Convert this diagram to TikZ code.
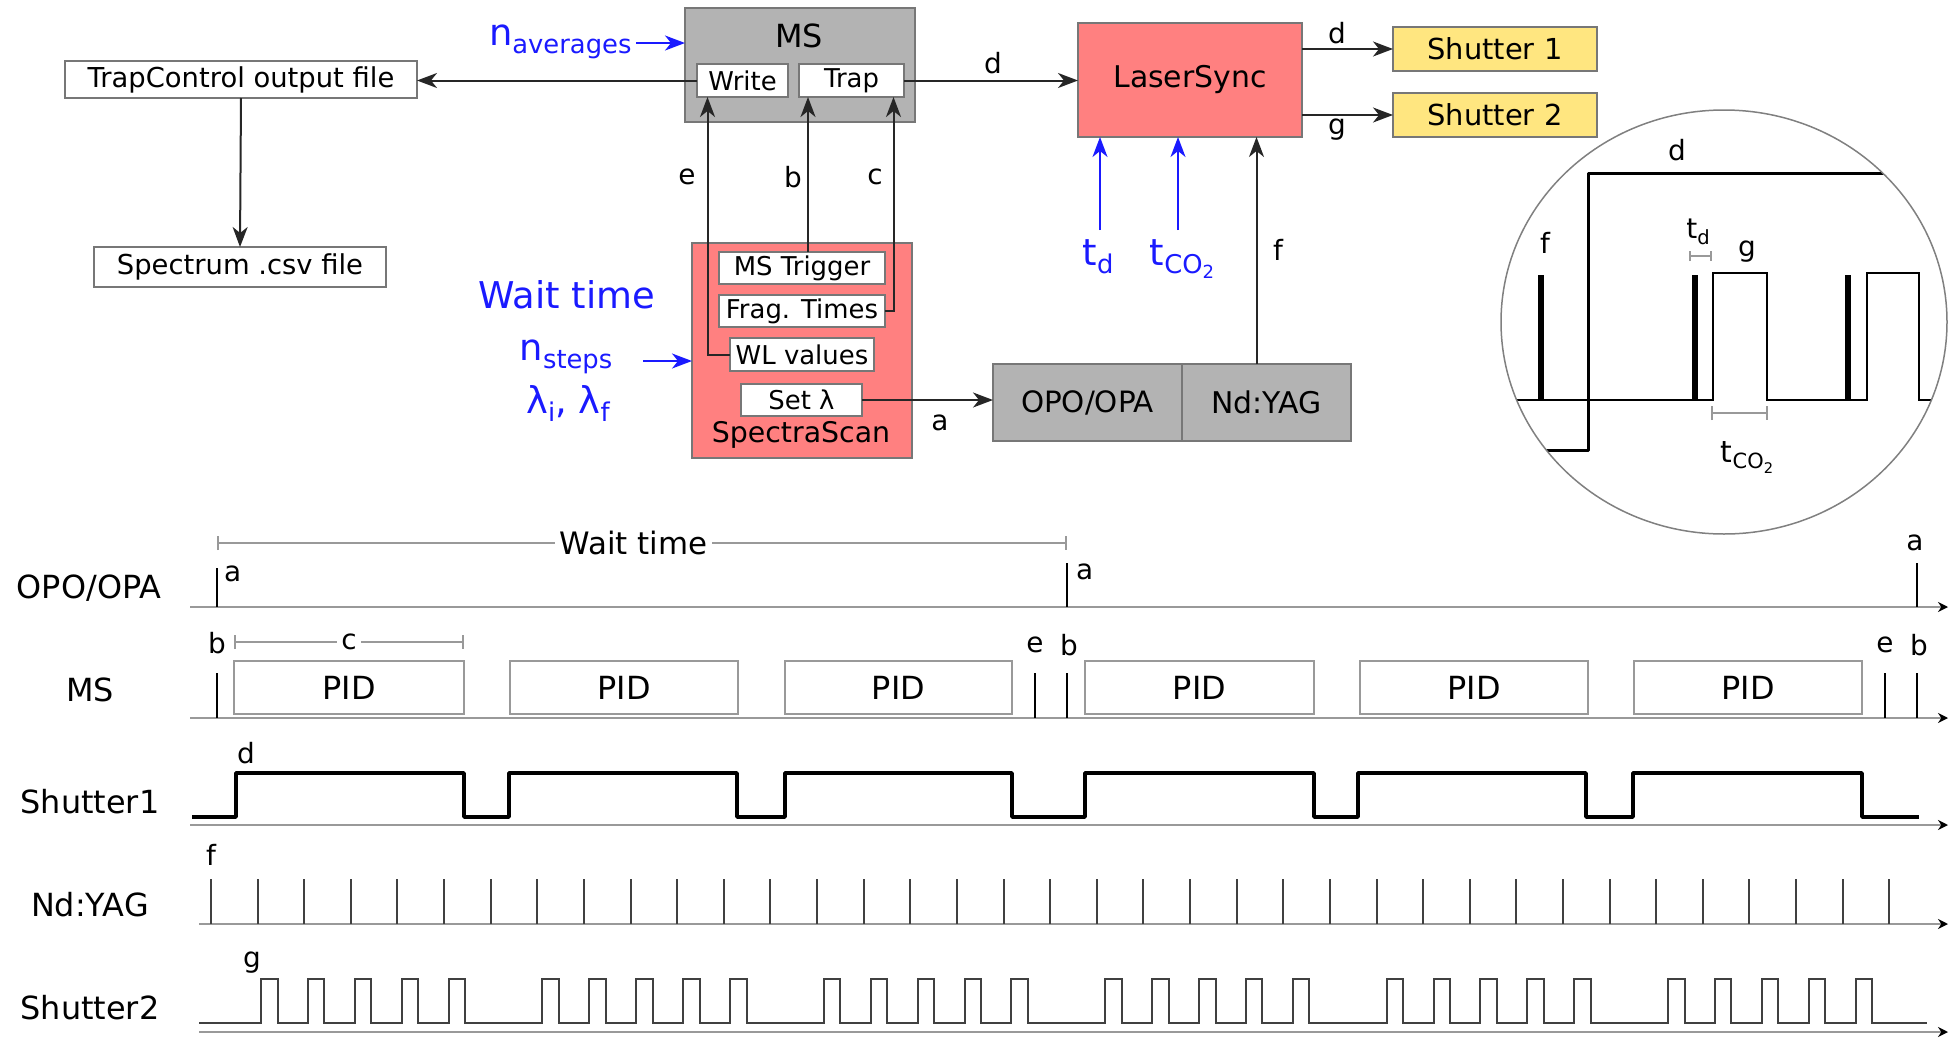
\documentclass[tikz,border=0pt]{standalone}
\usepackage{fontspec}
\setmainfont{DejaVu Sans}
\usetikzlibrary{arrows.meta,calc}
\definecolor{msgray}{HTML}{B3B3B3}
\definecolor{salmonbox}{HTML}{FF8080}
\definecolor{shyellow}{HTML}{FFE680}
\definecolor{bordergray}{HTML}{777777}
\definecolor{inblue}{HTML}{1A1AFF}
\definecolor{bargray}{HTML}{999999}
\newcommand{\lsub}[1]{\raisebox{-0.22em}{\scalebox{0.7}{#1}}}
\newcommand{\fs}[1]{\fontsize{#1}{#1}\selectfont}
\tikzset{
  every node/.style={inner sep=0pt, outer sep=0pt},
  wbox/.style={draw=bordergray, fill=white, line width=1.3bp, font=\fs{26}},
  gbox/.style={draw=bordergray, fill=msgray, line width=1.3bp},
  rbox/.style={draw=bordergray, fill=salmonbox, line width=1.3bp},
  ybox/.style={draw=bordergray, fill=shyellow, line width=1.3bp, font=\fs{29}},
  conn/.style={draw=black!85, line width=2bp, -{Stealth[length=20bp,width=15bp,inset=6bp]}},
  bconn/.style={draw=inblue, line width=2bp, -{Stealth[length=20bp,width=15bp,inset=6bp]}},
  lbl/.style={font=\fs{28}},
  blbl/.style={font=\fs{37}, text=inblue},
  tlbl/.style={font=\fs{32}},
  axisline/.style={draw=gray!80, line width=2.5bp, -{Stealth[length=10bp,width=10bp,color=black]}},
  sig/.style={draw=black, line width=2.5bp},
  thicksig/.style={draw=black, line width=3.5bp, line join=round},
  thinsig/.style={draw=black!75, line width=2bp},
  gbar/.style={draw=bargray, line width=2bp, {Bar[width=14bp]}-{Bar[width=14bp]}},
  pidbox/.style={draw=bargray, line width=1.5bp},
}
\begin{document}
\begin{tikzpicture}[x=1bp,y=-1bp]
\useasboundingbox (0,0) rectangle (1949,1037);

% ---------------- top block diagram ----------------
\node[draw=bordergray, fill=white, line width=1.3bp, minimum width=352bp, minimum height=37bp, font=\fs{27.5}] (trapout) at (241,79.5) {TrapControl output file};
\node[draw=bordergray, fill=white, line width=1.3bp, minimum width=292bp, minimum height=40bp, font=\fs{27.5}] (spectrum) at (240,267) {Spectrum .csv file};

\node[gbox, minimum width=230bp, minimum height=114bp] (ms) at (800,65) {};
\node[font=\fs{32}] (mslabel) at (799,36) {MS};
\node[wbox, minimum width=91bp, minimum height=33bp] (write) at (742.5,80.5) {Write};
\node[wbox, minimum width=105bp, minimum height=33bp] (trap) at (851.5,80.5) {Trap};

\node[rbox, minimum width=224bp, minimum height=114bp, font=\fs{30}] (laser) at (1190,80) {LaserSync};
\node[ybox, minimum width=204bp, minimum height=44bp] (sh1) at (1495,49) {Shutter 1};
\node[ybox, minimum width=204bp, minimum height=44bp] (sh2) at (1495,115) {Shutter 2};

\node[rbox, minimum width=220bp, minimum height=215bp] (scan) at (802,350.5) {};
\node[font=\fs{28.5}] (scanlabel) at (801,435) {SpectraScan};
\node[wbox, minimum width=166bp, minimum height=32bp] (mstrig) at (802,268) {MS Trigger};
\node[wbox, minimum width=166bp, minimum height=32bp] (frag) at (802,311) {Frag. Times};
\node[wbox, minimum width=144bp, minimum height=33bp] (wl) at (802,354.5) {WL values};
\node[wbox, minimum width=121bp, minimum height=32bp] (setl) at (801.5,400) {Set λ};

\node[gbox, minimum width=189bp, minimum height=77bp, font=\fs{29.5}] (opo) at (1087.5,402.5) {OPO/OPA};
\node[gbox, minimum width=169bp, minimum height=77bp, font=\fs{30}, anchor=west] (yag) at (opo.east) {Nd:YAG};

% connectors
\draw[conn] (write.west) -- (write.west -| trapout.east);
\draw[conn] (trap.east) -- (trap.east -| laser.west);
\draw[conn] (trapout.south) -- (spectrum.north);
\draw[conn] (laser.east |- sh1.west) -- (sh1.west);
\draw[conn] (laser.east |- sh2.west) -- (sh2.west);
\draw[conn] (wl.west) -| ([xshift=-35bp]write.south);
\draw[conn] ([xshift=6bp]mstrig.north) -- ([xshift=6bp]mstrig.north |- trap.south);
\draw[conn] (frag.east) -| ([xshift=42bp]trap.south);
\draw[conn] (setl.east) -- (setl.east -| opo.west);
\draw[conn] ([xshift=-10bp]yag.north) -- ([xshift=-10bp]yag.north |- laser.south);

% connector labels
\node[lbl] (le) at (687,177) {e};
\node[lbl] (lb) at (793,177) {b};
\node[lbl] (lc) at (875,177) {c};
\node[lbl] (ld) at (993,63) {d};
\node[lbl] (ld2) at (1337,33) {d};
\node[lbl] (lg2) at (1337,130) {g};
\node[lbl] (la) at (940,423) {a};
\node[lbl] (lf) at (1278,250) {f};

% blue inputs
\node[blbl, anchor=base west] (navg) at (489,45) {n\lsub{averages}};
\coordinate (naS) at (636,43);
\draw[bconn] (naS) -- (naS -| ms.west);

\node[blbl, anchor=base] (wait) at (567,308) {Wait time};
\node[blbl, anchor=base] (nsteps) at (566,360) {n\lsub{steps}};
\node[blbl, anchor=base] (lams) at (568,413) {λ\lsub{i}, λ\lsub{f}};
\coordinate (inS) at (643,361);
\draw[bconn] (inS) -- (inS -| scan.west);

\node[blbl, anchor=base] (tdl) at (1098,265) {t\lsub{d}};
\node[blbl, anchor=base] (tcol) at (1182,265) {t\lsub{CO\lsub{2}}};
\coordinate (tdS) at (1100,230);
\coordinate (tcS) at (1178,230);
\draw[bconn] (tdS) -- (tdS |- laser.south);
\draw[bconn] (tcS) -- (tcS |- laser.south);

% ---------------- inset ----------------
\begin{scope}
\clip (1724,322) ellipse [x radius=223, y radius=212];
\draw[thicksig, line width=3bp] (1490,450) -- (1588,450) -- (1588,173) -- (1960,173);
\draw[sig] (1490,400) -- (1713,400) -- (1713,273) -- (1767,273) -- (1767,400) -- (1867,400) -- (1867,273) -- (1919,273) -- (1919,400) -- (1960,400);
\foreach \x in {1541,1695,1848} \draw[draw=black, line width=6bp] (\x,275) -- (\x,400);
\end{scope}
\draw[draw=gray, line width=1.5bp] (1724,322) ellipse [x radius=223, y radius=212];
\node[lbl] (ind) at (1677,150) {d};
\node[lbl] (inf) at (1545,243) {f};
\node[lbl] (ing) at (1747,252) {g};
\node[lbl, anchor=base] (intd) at (1698,238) {t\lsub{d}};
\node[font=\fs{30}, anchor=base] (intco) at (1747,462) {t\lsub{CO\lsub{2}}};
\coordinate (tdb1) at (1689,256); \coordinate (tdb2) at (1712,256);
\draw[gbar, {Bar[width=10bp]}-{Bar[width=10bp]}] (tdb1) -- (tdb2);
\coordinate (tcb1) at (1711,413); \coordinate (tcb2) at (1768,413);
\draw[gbar] (tcb1) -- (tcb2);

% ---------------- timing diagram ----------------
\node[tlbl] (topo) at (89,588) {OPO/OPA};
\node[tlbl] (tms) at (90,690) {MS};
\node[tlbl] (tsh1) at (90,802) {Shutter1};
\node[tlbl] (tyag) at (90,905) {Nd:YAG};
\node[tlbl] (tsh2) at (90,1008) {Shutter2};

\coordinate (a1s) at (190,607);  \coordinate (a1e) at (1948,607);
\coordinate (a2s) at (190,718);  \coordinate (a2e) at (1948,718);
\coordinate (a3s) at (190,825);  \coordinate (a3e) at (1948,825);
\coordinate (a4s) at (199,924);  \coordinate (a4e) at (1948,924);
\coordinate (a5s) at (199,1032); \coordinate (a5e) at (1948,1032);
\draw[axisline] (a1s) -- (a1e);
\draw[axisline] (a2s) -- (a2e);
\draw[axisline] (a3s) -- (a3e);
\draw[axisline] (a4s) -- (a4e);
\draw[axisline] (a5s) -- (a5e);

% wait time bar
\coordinate (wt1) at (217,543); \coordinate (wt2) at (1067,543);
\draw[gbar] (wt1) -- (wt2) node[pos=0.49, fill=white, inner xsep=5bp, inner ysep=2bp, font=\fs{31}, text=black] (wtl) {Wait time};

% OPO pulses
\draw[sig] (217,568) -- (217,607);
\draw[sig] (1067,563) -- (1067,607);
\draw[sig] (1917,563) -- (1917,607);
\node[lbl, anchor=west] (ta1) at (224,574) {a};
\node[lbl, anchor=west] (ta2) at (1076,572) {a};
\node[lbl] (ta3) at (1915,543) {a};

% MS
\coordinate (cb1) at (234,642); \coordinate (cb2) at (464,642);
\draw[gbar] (cb1) -- (cb2) node[midway, fill=white, inner xsep=4bp, inner ysep=2bp, font=\fs{28}, text=black] (tcl) {c};
\foreach \x in {217,1035,1067,1885,1917} \draw[sig] (\x,673) -- (\x,718);
\node[lbl] (tb1) at (217,643) {b};
\node[lbl] (te2) at (1035,645) {e};
\node[lbl] (tb2) at (1069,645) {b};
\node[lbl] (te3) at (1885,645) {e};
\node[lbl] (tb3) at (1919,645) {b};
\foreach \a/\b [count=\i] in {234/464, 510/738, 785/1012, 1085/1314, 1360/1588, 1634/1862} {
  \draw[pidbox] (\a,661) rectangle (\b,714);
  \node[font=\fs{32}] (pid\i) at ({(\a+\b)/2},688) {PID};
}

% Shutter1
\draw[thicksig] (192,817) -- (236,817) -- (236,773) -- (464,773) -- (464,817) -- (509,817) -- (509,773) -- (737,773) -- (737,817) -- (785,817) -- (785,773) -- (1012,773) -- (1012,817) -- (1085,817) -- (1085,773) -- (1314,773) -- (1314,817) -- (1358,817) -- (1358,773) -- (1586,773) -- (1586,817) -- (1633,817) -- (1633,773) -- (1862,773) -- (1862,817) -- (1919,817);
\node[lbl] (td) at (246,753) {d};

% Nd:YAG
\foreach \k in {0,...,36} \draw[thinsig] ({211+46.62*\k},879) -- ({211+46.62*\k},924);
\node[lbl] (tf) at (211,855) {f};

% Shutter2
\draw[thinsig, line join=miter] (199,1023)
  foreach \x in {261,307.9,354.8,401.7,448.6,542.4,589.3,636.2,683.1,730,823.8,870.7,917.6,964.5,1011.4,1105.2,1152.1,1199,1245.9,1292.8,1386.6,1433.5,1480.4,1527.3,1574.2,1668,1714.9,1761.8,1808.7,1855.6}
  { -- (\x,1023) -- (\x,979) -- ({\x+16.5},979) -- ({\x+16.5},1023) }
  -- (1927,1023);
\node[lbl] (tg) at (252,963) {g};
\end{tikzpicture}
\end{document}
